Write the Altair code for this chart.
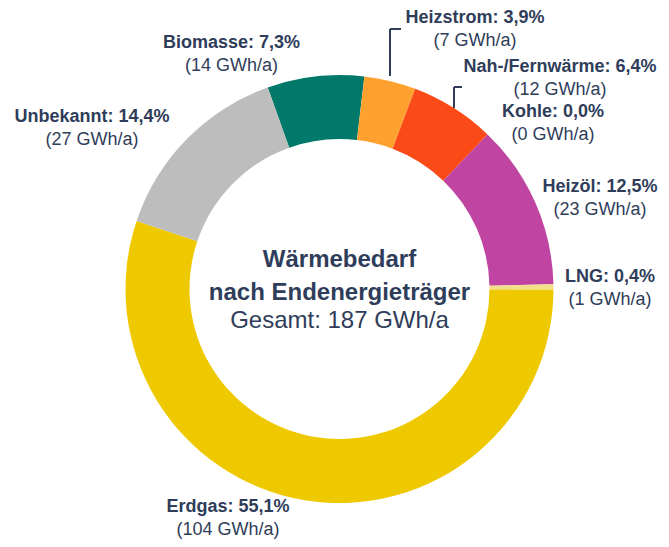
import math
import altair as alt
import pandas as pd

# ---- data ----
categories = ["Biomasse", "Heizstrom", "Nah-/Fernwärme", "Kohle", "Heizöl", "LNG", "Erdgas", "Unbekannt"]
shares_pct = [7.3, 3.9, 6.4, 0.0, 12.5, 0.4, 55.1, 14.4]
energy_gwh = [14, 7, 12, 0, 23, 1, 104, 27]
colors = ["#00796b", "#ffa12e", "#fa4a17", "#3a3a3a", "#c044a2", "#f2e08c", "#efc900", "#bdbdbd"]
title_lines = ["Wärmebedarf", "nach Endenergieträger"]
total_line = "Gesamt: 187 GWh/a"

# ---- layout (chart pixel coordinates) ----
W, H = 653, 531
CX, CY = 331.5, 281
R_OUT, R_IN = 214, 150
START = math.radians(-19.6)
TEXT_COLOR = "#2f3d5a"
FONT = "Liberation Sans"

# label anchor (center x, baseline of first line)
label_x = [223.5, 467, 552, 545, 592, 602, 220, 84]
label_y = [40, 15, 64, 109, 184, 274, 504, 114]
# leader lines: x, y, x2, y2
leaders = [
    (382, 21, 382, 68), (382, 21, 393, 21),
    (446, 79, 446, 100), (446, 79, 454, 79),
]

def fmt_pct(v):
    return f"{v:.1f}".replace(".", ",") + "%"

df = pd.DataFrame({
    "cat": categories,
    "pct": shares_pct,
    "idx": list(range(len(categories))),
})

lab = pd.DataFrame({
    "line1": [f"{c}: {fmt_pct(p)}" for c, p in zip(categories, shares_pct)],
    "line2": [f"({g} GWh/a)" for g in energy_gwh],
    "x": label_x,
    "y1": label_y,
    "y2": [y + 23 for y in label_y],
})

lead = pd.DataFrame(leaders, columns=["x", "y", "x2", "y2"])

center = pd.DataFrame({
    "t": title_lines + [total_line],
    "x": [CX, CX, CX],
    "y": [259, 292, 320],
    "w": ["bold", "bold", "normal"],
})

xs = alt.Scale(domain=[0, W], range=[0, W])
ys = alt.Scale(domain=[0, H], range=[0, H])

arcs = alt.Chart(df).mark_arc(radius=R_OUT, radius2=R_IN).encode(
    theta=alt.Theta("pct:Q", stack=True, scale=alt.Scale(range=[START, START + 2 * math.pi])),
    color=alt.Color("cat:N", scale=alt.Scale(domain=categories, range=colors), legend=None),
    order=alt.Order("idx:Q"),
    x=alt.value(CX),
    y=alt.value(CY),
)

rules = alt.Chart(lead).mark_rule(color=TEXT_COLOR, strokeWidth=2).encode(
    x=alt.X("x:Q", scale=xs, axis=None),
    x2="x2:Q",
    y=alt.Y("y:Q", scale=ys, axis=None),
    y2="y2:Q",
)

t1 = alt.Chart(lab).mark_text(font=FONT, fontSize=18, fontWeight="bold", color=TEXT_COLOR,
                              align="center", baseline="alphabetic").encode(
    x=alt.X("x:Q", scale=xs, axis=None),
    y=alt.Y("y1:Q", scale=ys, axis=None),
    text="line1:N",
)
t2 = alt.Chart(lab).mark_text(font=FONT, fontSize=18, color=TEXT_COLOR,
                              align="center", baseline="alphabetic").encode(
    x=alt.X("x:Q", scale=xs, axis=None),
    y=alt.Y("y2:Q", scale=ys, axis=None),
    text="line2:N",
)

c_bold = alt.Chart(center).transform_filter("datum.w == 'bold'").mark_text(
    font=FONT, fontSize=24, fontWeight="bold", color=TEXT_COLOR, align="center", baseline="alphabetic"
).encode(x=alt.X("x:Q", scale=xs, axis=None), y=alt.Y("y:Q", scale=ys, axis=None), text="t:N")
c_norm = alt.Chart(center).transform_filter("datum.w == 'normal'").mark_text(
    font=FONT, fontSize=24, color=TEXT_COLOR, align="center", baseline="alphabetic"
).encode(x=alt.X("x:Q", scale=xs, axis=None), y=alt.Y("y:Q", scale=ys, axis=None), text="t:N")

chart = alt.layer(arcs, rules, t1, t2, c_bold, c_norm).properties(
    width=W, height=H, padding=0, autosize=alt.AutoSizeParams(type="none")
).configure_view(stroke=None)

chart.save("out.html", embed_options={"renderer": "svg", "actions": False})
